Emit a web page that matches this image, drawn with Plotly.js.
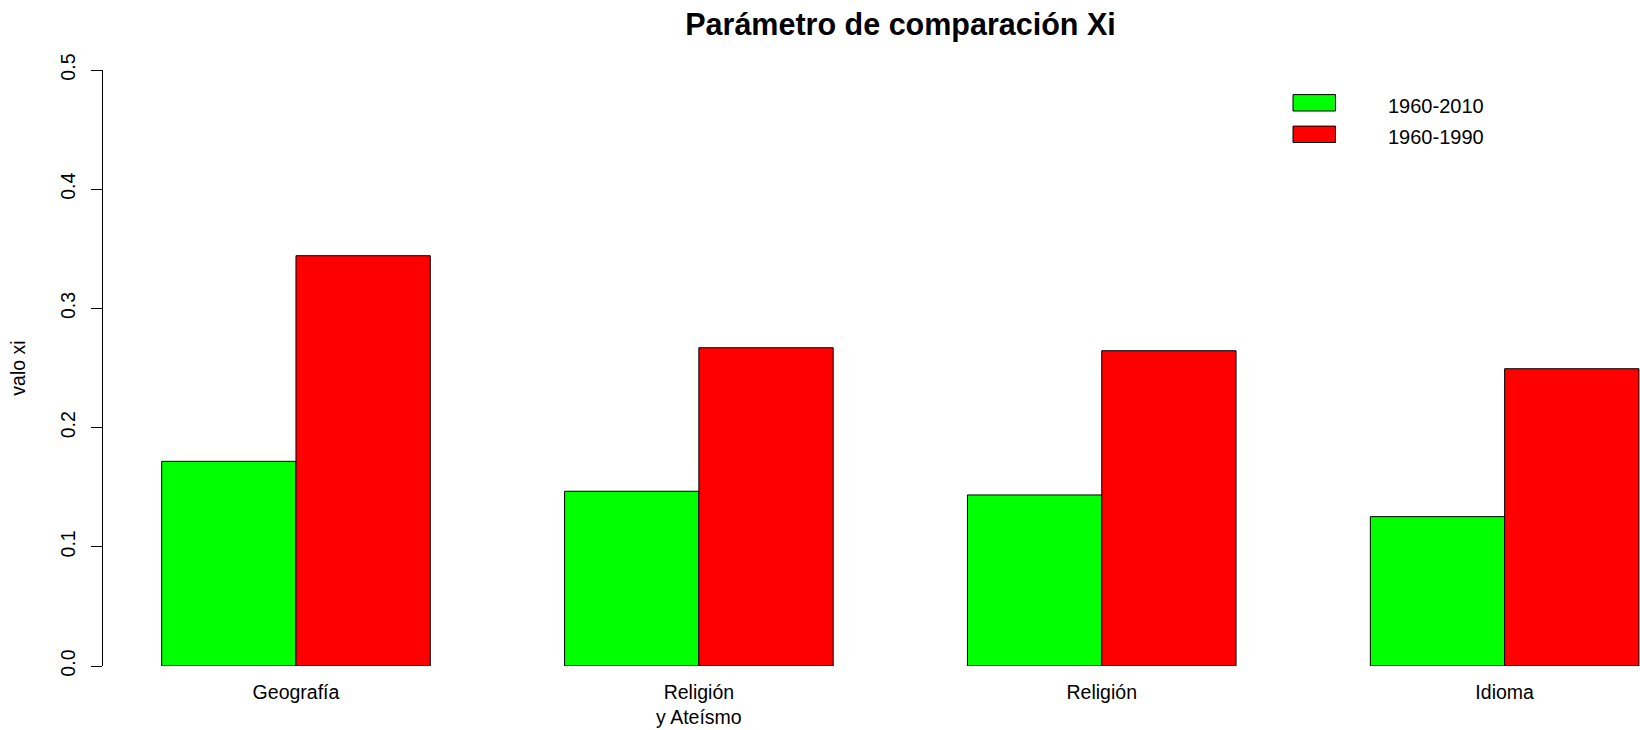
<!DOCTYPE html>
<html>
<head>
<meta charset="utf-8">
<script src="https://cdn.plot.ly/plotly-3.0.1.min.js"></script>
<style>html,body{margin:0;padding:0;background:#fff;}#chart{width:1640px;height:730px;}</style>
</head>
<body>
<div id="chart"></div>
<script>
var categories = ["Geografía", "Religión<br>y Ateísmo", "Religión", "Idioma"];
var seriesNames = ["1960-2010", "1960-1990"];
var values2010 = [0.1717, 0.1466, 0.1435, 0.1253];
var values1990 = [0.3442, 0.2670, 0.2645, 0.2494];
var seriesColors = ["#00FF00", "#FF0000"];
var yTicks = [0, 0.1, 0.2, 0.3, 0.4, 0.5];

var W = 1640, H = 730;
var L = 103, R = 0, T = 70, B = 64;
var plotW = W - L - R, plotH = H - T - B;
function px2x(px) { return (px - L) / plotW; }
function py2y(py) { return (H - B - py) / plotH; }

var FONT = "Liberation Sans, Arial, Helvetica, sans-serif";

var traces = [
  { type: "bar", x: categories, y: values2010, name: seriesNames[0],
    marker: { color: seriesColors[0], line: { color: "#000", width: 1 } }, showlegend: false },
  { type: "bar", x: categories, y: values1990, name: seriesNames[1],
    marker: { color: seriesColors[1], line: { color: "#000", width: 1 } }, showlegend: false }
];

// manual legend (R-style boxes)
var shapes = [], annotations = [];
var legendRows = [102.8, 134.3];
for (var i = 0; i < seriesNames.length; i++) {
  var cy = legendRows[i];
  shapes.push({ type: "rect", xref: "paper", yref: "paper",
    x0: px2x(1293), x1: px2x(1335.5), y0: py2y(cy - 8.2), y1: py2y(cy + 8.2),
    fillcolor: seriesColors[i], line: { color: "#000", width: 1 } });
  annotations.push({ xref: "paper", yref: "paper", x: px2x(1386), y: py2y(cy + 3),
    xanchor: "left", yanchor: "middle", showarrow: false, text: seriesNames[i],
    font: { family: FONT, size: 20, color: "#000" } });
}

var layout = {
  width: W, height: H,
  margin: { l: L, r: R, t: T, b: B, pad: 0 },
  paper_bgcolor: "#fff", plot_bgcolor: "#fff",
  font: { family: FONT, size: 19.5, color: "#000" },
  title: { text: "<b>Parámetro de comparación Xi</b>", xref: "container", yref: "container",
    x: 900.5 / W, xanchor: "center", y: 1 - 24 / H, yanchor: "middle",
    font: { family: FONT, size: 30.5, color: "#000" } },
  barmode: "group", bargap: 1 / 3, bargroupgap: 0,
  xaxis: { type: "category", range: [-0.479, 3.336], showline: false, showgrid: false,
    zeroline: false, ticks: "", ticklabelstandoff: 12, automargin: false,
    tickfont: { family: FONT, size: 19.5, color: "#000" } },
  yaxis: { range: [0, 0.5], tickvals: yTicks, tickformat: ".1f", showline: true,
    linecolor: "#000", linewidth: 1, ticks: "outside", ticklen: 11, tickwidth: 1,
    tickcolor: "#000", showgrid: false, zeroline: false, tickangle: -90, automargin: false,
    ticklabelstandoff: 8,
    tickfont: { family: FONT, size: 19.5, color: "#000" },
    title: { text: "valo xi", standoff: 26, font: { family: FONT, size: 19.5, color: "#000" } } },
  shapes: shapes,
  annotations: annotations
};

Plotly.newPlot("chart", traces, layout, { displayModeBar: false, staticPlot: true });
</script>
</body>
</html>
